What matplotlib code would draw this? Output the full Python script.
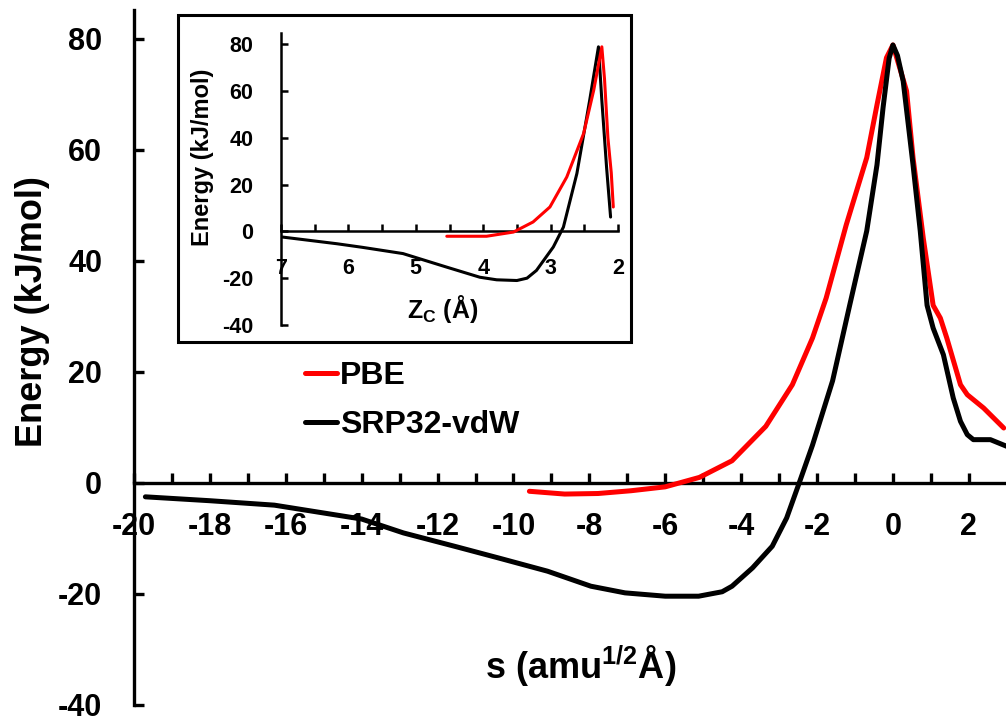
import matplotlib
matplotlib.use("Agg")
import matplotlib.pyplot as plt
from matplotlib.patches import Rectangle
from matplotlib.ticker import FixedLocator, FuncFormatter

plt.rcParams['font.family'] = ['Liberation Sans', 'DejaVu Sans']
plt.rcParams['font.weight'] = 'bold'
plt.rcParams['mathtext.fontset'] = 'custom'
plt.rcParams['mathtext.rm'] = 'Liberation Sans:bold'
plt.rcParams['mathtext.default'] = 'rm'

# ---- main panel data: energy along reaction path s ----
s_srp = [-19.7, -18.0, -16.3, -14.0, -12.9, -11.5, -10.4, -9.1, -7.96, -7.06, -6.0,
         -5.12, -4.5, -4.24, -3.7, -3.18, -2.8, -2.47, -2.12, -1.59, -1.14, -0.69,
         -0.42, -0.26, -0.1, 0.0, 0.12, 0.27, 0.53, 0.72, 0.9, 1.06, 1.33, 1.59, 1.78, 1.96,
         2.12, 2.57, 3.0]
e_srp = [-2.5, -3.2, -4.0, -6.5, -9.0, -11.5, -13.5, -15.9, -18.6, -19.8, -20.4,
         -20.4, -19.6, -18.6, -15.3, -11.4, -6.3, 0.0, 6.8, 18.4, 32.0, 45.4,
         57.3, 67.6, 76.5, 78.9, 77.0, 72.4, 57.3, 45.4, 32.0, 27.9, 23.1, 15.3, 11.1, 8.7,
         7.8, 7.8, 6.6]

s_pbe = [-9.58, -8.65, -7.77, -6.9, -6.0, -5.1, -4.24, -3.35, -2.65, -2.12, -1.76,
         -1.23, -0.69, -0.42, -0.17, 0.0, 0.36, 0.53, 0.8, 1.06, 1.25, 1.42, 1.78,
         1.96, 2.39, 2.92]
e_pbe = [-1.5, -2.0, -1.9, -1.4, -0.7, 1.0, 4.0, 10.2, 17.7, 26.1, 33.3,
         46.5, 58.6, 68.1, 76.6, 78.9, 70.6, 58.6, 44.1, 32.0, 29.7, 26.1, 17.7,
         15.9, 13.5, 9.9]

# ---- inset data: energy vs Zc ----
zc_srp = [6.99, 6.17, 5.8, 5.19, 4.54, 4.05, 3.8, 3.50, 3.35, 3.21, 2.96, 2.81,
          2.61, 2.42, 2.29, 2.24, 2.17, 2.11]
ei_srp = [-2.4, -5.3, -6.8, -9.5, -15.3, -19.6, -20.7, -21.0, -20.0, -16.7, -6.7,
          1.8, 24.7, 56.0, 78.8, 56.0, 27.5, 6.1]
zc_pbe = [4.54, 3.95, 3.55, 3.26, 3.01, 2.76, 2.51, 2.36, 2.24, 2.20, 2.15, 2.10, 2.07]
ei_pbe = [-2.1, -2.1, -0.3, 4.0, 10.4, 23.2, 41.8, 60.3, 78.8, 65.0, 40.0, 25.0, 10.4]

main_xticks = list(range(-20, 4))
main_yticks = [-40, -20, 0, 20, 40, 60, 80]
inset_xticks = [2 + 0.5 * i for i in range(11)]
inset_yticks = [-40, -20, 0, 20, 40, 60, 80]

W, H = 1006, 721
fig = plt.figure(figsize=(W / 100, H / 100), dpi=100)

def fx(px):
    return px / W

def fy(py):
    return 1 - py / H

# main axes
ax = fig.add_axes([fx(134), fy(705), fx(1006) - fx(134), fy(10) - fy(705)])
ax.set_xlim(-20, 2.98)
ax.set_ylim(-40, 85.2)
ax.plot(s_pbe, e_pbe, color='#ff0000', lw=3.6, solid_capstyle='round', label='PBE', zorder=3)
ax.plot(s_srp, e_srp, color='black', lw=3.6, solid_capstyle='round', label='SRP32-vdW', zorder=4)

for side in ['top', 'right']:
    ax.spines[side].set_visible(False)
ax.spines['bottom'].set_position(('data', 0))
ax.spines['left'].set_linewidth(2.4)
ax.spines['bottom'].set_linewidth(2.4)
ax.xaxis.set_major_locator(FixedLocator(main_xticks))
ax.xaxis.set_major_formatter(FuncFormatter(lambda v, p: '%d' % v if int(round(v)) % 2 == 0 else ''))
ax.yaxis.set_major_locator(FixedLocator(main_yticks))
ax.yaxis.set_major_formatter(FuncFormatter(lambda v, p: '%d' % v))
ax.tick_params(axis='x', direction='in', length=7.2, width=2.4, pad=21, labelsize=22)
ax.tick_params(axis='y', direction='in', length=7.2, width=2.4, pad=23, labelsize=22)
for lab in ax.get_xticklabels() + ax.get_yticklabels():
    lab.set_fontweight('bold')

fig.text(fx(33), fy(312), 'Energy (kJ/mol)', rotation=90, ha='center', va='center',
         fontsize=26, fontweight='bold')
fig.text(fx(581), fy(666), 's (amu$^{1/2}$Å)', ha='center', va='center',
         fontsize=26, fontweight='bold')

leg = ax.legend(loc='upper left', bbox_to_anchor=(fx(305), fy(361)),
                bbox_transform=fig.transFigure, frameon=False, fontsize=23,
                handlelength=1.0, handletextpad=0.1, labelspacing=0.6,
                borderpad=0, borderaxespad=0)
for t in leg.get_texts():
    t.set_fontweight('bold')

# inset frame
fig.patches.append(Rectangle((fx(178), fy(342)), fx(631) - fx(178), fy(15) - fy(342),
                             transform=fig.transFigure, fill=False, lw=2.2,
                             edgecolor='black', zorder=5))

# inset axes
ai = fig.add_axes([fx(281), fy(325), fx(618) - fx(281), fy(33) - fy(325)])
ai.patch.set_alpha(0)
ai.set_xlim(7, 2)
ai.set_ylim(-40, 84.7)
ai.plot(zc_srp, ei_srp, color='black', lw=2.2, solid_capstyle='round', zorder=3)
ai.plot(zc_pbe, ei_pbe, color='#ff0000', lw=2.2, solid_capstyle='round', zorder=4)
for side in ['top', 'right']:
    ai.spines[side].set_visible(False)
ai.spines['bottom'].set_position(('data', 0))
ai.spines['left'].set_linewidth(1.8)
ai.spines['bottom'].set_linewidth(1.8)
ai.xaxis.set_major_locator(FixedLocator(inset_xticks))
ai.xaxis.set_major_formatter(FuncFormatter(lambda v, p: '%d' % round(v) if abs(v - round(v)) < 1e-6 else ''))
ai.yaxis.set_major_locator(FixedLocator(inset_yticks))
ai.yaxis.set_major_formatter(FuncFormatter(lambda v, p: '%d' % v))
ai.tick_params(axis='x', direction='in', length=5, width=1.8, pad=19, labelsize=15.5)
ai.tick_params(axis='y', direction='in', length=5, width=1.8, pad=20, labelsize=15.5)
for lab in ai.get_xticklabels() + ai.get_yticklabels():
    lab.set_fontweight('bold')

fig.text(fx(202), fy(157), 'Energy (kJ/mol)', rotation=90, ha='center', va='center',
         fontsize=17, fontweight='bold')
fig.text(fx(443), fy(309), 'Z$_{C}$ (Å)', ha='center', va='center',
         fontsize=18, fontweight='bold')

fig.savefig('out.png', dpi=100)
